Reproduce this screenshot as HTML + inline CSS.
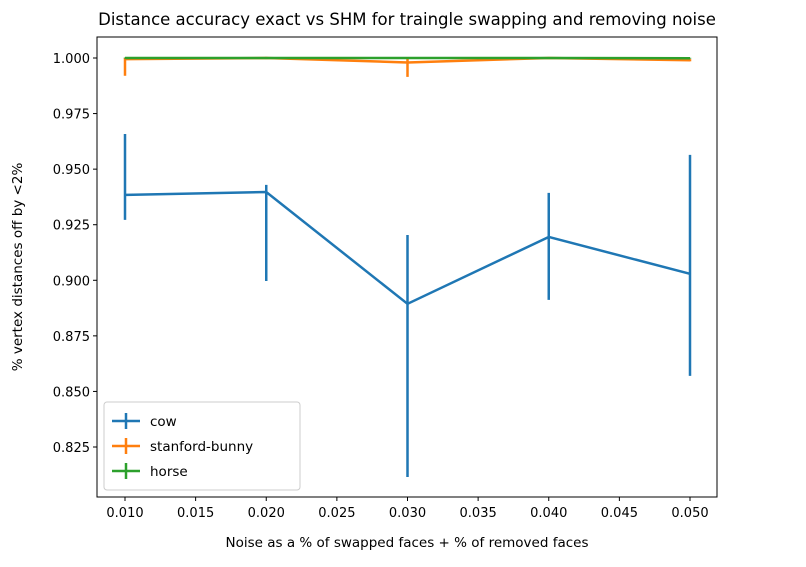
<!DOCTYPE html>
<html><head><meta charset="utf-8"><style>
body{margin:0;background:#fff;width:806px;height:562px;overflow:hidden}
svg text{font-family:"DejaVu Sans","Liberation Sans",sans-serif;fill:#000}
</style></head><body>
<svg id="chart" width="806" height="562">
<text x="407" y="25" font-size="16.5" text-anchor="middle">Distance accuracy exact vs SHM for traingle swapping and removing noise</text>
<g id="plot"></g>
<text x="407" y="547" font-size="13.5" text-anchor="middle">Noise as a % of swapped faces + % of removed faces</text>
<text transform="translate(22,267) rotate(-90)" font-size="13.5" text-anchor="middle">% vertex distances off by &lt;2%</text>
</svg>
<script>
const xs=[0.010,0.020,0.030,0.040,0.050];
const seriesNames=["cow","stanford-bunny","horse"];
const colors=["#1f77b4","#ff7f0e","#2ca02c"];
const cowMean=[0.9384,0.9397,0.8894,0.9195,0.9029];
const cowLow=[0.9272,0.8997,0.8115,0.8912,0.857];
const cowHigh=[0.9658,0.9429,0.9204,0.9393,0.9564];
const bunnyMean=[0.9995,1.0,0.998,1.0,0.999];
const bunnyLow=[0.992,0.9995,0.9915,0.9997,0.9985];
const bunnyHigh=[1.0,1.0005,1.0,1.0003,0.9995];
const horseMean=[1.0,1.0,1.0,1.0,0.9999];
const horseLow=[0.9998,0.9998,0.9998,0.9998,0.9997];
const horseHigh=[1.0002,1.0002,1.0002,1.0002,1.0001];
const xTicks=[0.010,0.015,0.020,0.025,0.030,0.035,0.040,0.045,0.050];
const yTicks=[0.825,0.850,0.875,0.900,0.925,0.950,0.975,1.000];
const L=97,R=717,T=37,B=497;
const X=v=>125+(v-0.010)/0.040*565;
const Y=v=>58+(1.0-v)/0.175*389;
const NS="http://www.w3.org/2000/svg";
const g=document.getElementById('plot');
function mk(t,a){const e=document.createElementNS(NS,t);for(const k in a)e.setAttribute(k,a[k]);g.appendChild(e);return e;}
xTicks.forEach(v=>{
 const l=mk('line',{x1:X(v),x2:X(v),y1:B,y2:B+4,stroke:'#000'});
 
 
 const t=mk('text',{x:X(v),y:B+20,'font-size':13,'text-anchor':'middle'});t.textContent=v.toFixed(3);
 
 
});
yTicks.forEach(v=>{
 const l=mk('line',{x1:L-4,x2:L,y1:Y(v),y2:Y(v),stroke:'#000'});
 
 
 const t=mk('text',{x:L-7,y:Y(v)+5,'font-size':13,'text-anchor':'end'});t.textContent=v.toFixed(3);
 
 
});
const data=[[cowMean,cowLow,cowHigh],[bunnyMean,bunnyLow,bunnyHigh],[horseMean,horseLow,horseHigh]];
data.forEach((d,si)=>{
 const [m,lo,hi]=d;
 m.forEach((v,i)=>{
  const e=mk('line',{x1:X(xs[i]),x2:X(xs[i]),y1:Y(lo[i]),y2:Y(hi[i]),stroke:colors[si],'stroke-width':2.5});
  
  
 });
 const p=mk('polyline',{points:m.map((v,i)=>X(xs[i])+','+Y(v)).join(' '),fill:'none',stroke:colors[si],'stroke-width':2.5});
 
 
});
const fr=mk('rect',{x:L,y:T,width:R-L,height:B-T,fill:'none',stroke:'#000','stroke-width':1});


const lg=mk('rect',{x:104,y:402,width:196,height:88,rx:3,fill:'#fff','fill-opacity':0.8,stroke:'#ccc'});


seriesNames.forEach((n,i)=>{
 const y=421+i*25;
 const a=mk('line',{x1:112,x2:140,y1:y,y2:y,stroke:colors[i],'stroke-width':2.5});
 
 
 const b=mk('line',{x1:126,x2:126,y1:y-8,y2:y+8,stroke:colors[i],'stroke-width':2.5});
 
 
 const t=mk('text',{x:150,y:y+5,'font-size':13.5});t.textContent=n;
 
 
});
</script>
</body></html>
